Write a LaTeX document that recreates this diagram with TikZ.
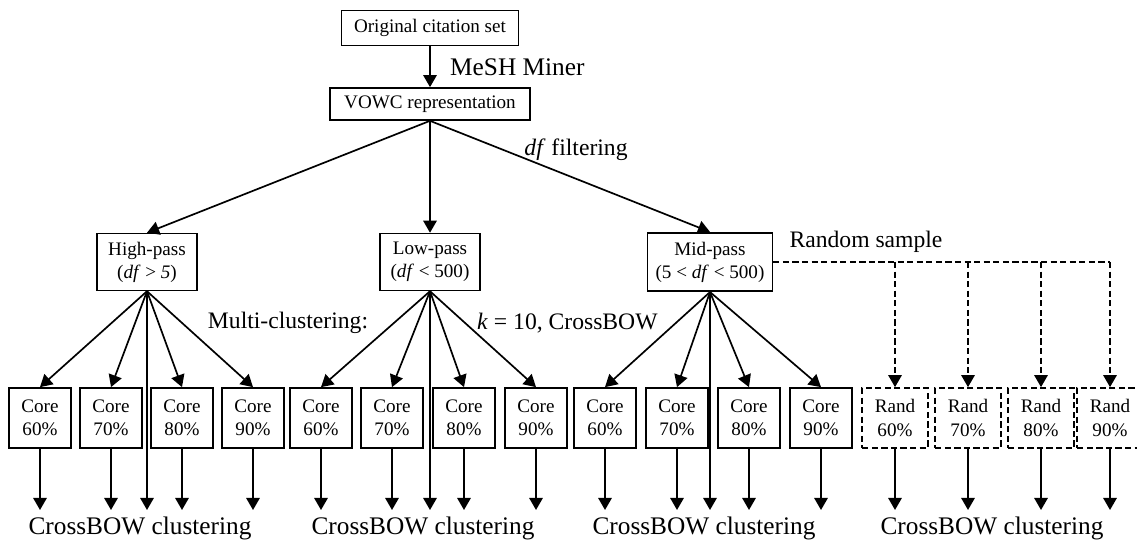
\documentclass[tikz,border=0pt]{standalone}
\usepackage{fontspec}
\setmainfont{Liberation Serif}
\usetikzlibrary{arrows.meta}

\begin{document}
\begin{tikzpicture}[x=0.0125cm, y=-0.0125cm, line width=0.6pt,
  every node/.style={font=\fontsize{6.8}{8.2}\selectfont},
  box/.style={draw, inner sep=2pt, align=center},
  pct/.style={box, minimum width=0.78cm, minimum height=0.75cm, inner sep=0pt},
  rnd/.style={pct, dashed, dash pattern=on 2.2pt off 1.2pt, minimum width=0.82cm},
  lbl/.style={font=\fontsize{9}{11}\selectfont},
  sublbl/.style={font=\fontsize{8.4}{10}\selectfont},
  arr/.style={-{Triangle[length=4.3pt,width=4.8pt]}}]

\useasboundingbox (0,0) rectangle (1137,547);

% Top of the chain
\node[box, minimum width=2.21cm, minimum height=0.44cm] (orig) at (430,28) {Original citation set};
\node[box, minimum width=2.5cm, minimum height=0.4cm] (vowc) at (430,104) {VOWC representation};
\draw[arr] (orig) -- (vowc);
\node[lbl, anchor=west] (mesh) at (440,67) {MeSH Miner};

% Filtered sets
\node[box, minimum width=1.25cm, minimum height=0.71cm] (hp) at (147,262) {High-pass\\(\textit{df} > \textit{5})};
\node[box, minimum width=1.25cm, minimum height=0.71cm] (lp) at (430,262) {Low-pass\\(\textit{df} < 500)};
\node[box, minimum width=1.56cm, minimum height=0.73cm] (mp) at (710,262) {Mid-pass\\(5 < \textit{df} < 500)};
\draw[arr] (vowc.south) -- (hp.north);
\draw[arr] (vowc.south) -- (lp.north);
\draw[arr] (vowc.south) -- (mp.north);
\node[sublbl] (dff) at (576,150) {\textit{df} filtering};

% Multi-clustering labels
\node[sublbl] (mc) at (288,323) {Multi-clustering:};
\node[sublbl, anchor=west] (kc) at (467,323) {\textit{k} = 10, CrossBOW};
\node[sublbl] (rs) at (866,242) {Random sample};

% Core and random subsets
\foreach \x/\p [count=\i] in {40/60,111/70,182/80,253/90}
  \node[pct] (hp\i) at (\x,418) {Core\\\p\%};
\foreach \x/\p [count=\i] in {321/60,392/70,464/80,536/90}
  \node[pct] (lp\i) at (\x,418) {Core\\\p\%};
\foreach \x/\p [count=\i] in {605/60,677/70,749/80,821/90}
  \node[pct] (mp\i) at (\x,418) {Core\\\p\%};
\foreach \x/\p [count=\i] in {895/60,968/70,1041/80,1110/90}
  \node[rnd] (rs\i) at (\x,418) {Rand\\\p\%};

% Connectors into the subsets
\foreach \s in {hp,lp,mp} {
  \foreach \i in {1,...,4}
    \draw[arr] (\s.south) -- (\s\i.north);
}
\draw[dash pattern=on 2.2pt off 1.2pt] (mp.east) -- (mp.east -| rs4.north);
\foreach \i in {1,...,4}
  \draw[arr, dash pattern=on 2.2pt off 1.2pt] (rs\i.north |- mp.east) -- (rs\i.north);

% Down to the clustering runs
\coordinate (tips) at (0,510);
\foreach \s in {hp,lp,mp,rs} {
  \foreach \i in {1,...,4}
    \draw[arr] (\s\i.south) -- (\s\i.south |- tips);
}
\draw[arr] (hp.south) -- (hp.south |- tips);
\draw[arr] (lp.south) -- (lp.south |- tips);
\draw[arr] (mp.south) -- (mp.south |- tips);

\node[lbl] (cb1) at (140,528) {CrossBOW clustering};
\node[lbl] (cb2) at (423,528) {CrossBOW clustering};
\node[lbl] (cb3) at (704,528) {CrossBOW clustering};
\node[lbl] (cb4) at (992,528) {CrossBOW clustering};

\end{tikzpicture}
\end{document}
